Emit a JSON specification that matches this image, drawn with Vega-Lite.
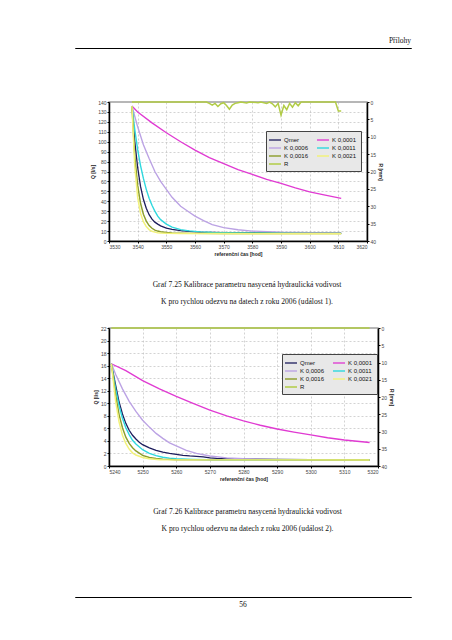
{
  "$schema": "https://vega.github.io/schema/vega-lite/v6.json",
  "autosize": {"type": "pad"},
  "padding": {"left": 74, "top": 36, "right": 4, "bottom": 4},
  "background": "white",
  "datasets": {
    "c1": [
      {"t":3538,"s":"Qmer","v":136},{"t":3539,"s":"Qmer","v":100},{"t":3540,"s":"Qmer","v":74},{"t":3541,"s":"Qmer","v":55},{"t":3542,"s":"Qmer","v":42},{"t":3543,"s":"Qmer","v":33},{"t":3544,"s":"Qmer","v":26.5},{"t":3545,"s":"Qmer","v":22},{"t":3546,"s":"Qmer","v":19},{"t":3547,"s":"Qmer","v":17},{"t":3548,"s":"Qmer","v":15.2},{"t":3550,"s":"Qmer","v":13},{"t":3552,"s":"Qmer","v":11.8},{"t":3555,"s":"Qmer","v":10.5},{"t":3558,"s":"Qmer","v":9.6},{"t":3562,"s":"Qmer","v":9},{"t":3566,"s":"Qmer","v":8.7},{"t":3570,"s":"Qmer","v":8.4},{"t":3580,"s":"Qmer","v":8.1},{"t":3590,"s":"Qmer","v":7.9},{"t":3600,"s":"Qmer","v":7.8},{"t":3611,"s":"Qmer","v":7.7},
      {"t":3538,"s":"K 0,0001","v":136},{"t":3540,"s":"K 0,0001","v":130},{"t":3545,"s":"K 0,0001","v":119},{"t":3550,"s":"K 0,0001","v":109},{"t":3555,"s":"K 0,0001","v":100},{"t":3560,"s":"K 0,0001","v":91.5},{"t":3565,"s":"K 0,0001","v":84},{"t":3570,"s":"K 0,0001","v":78},{"t":3575,"s":"K 0,0001","v":72},{"t":3580,"s":"K 0,0001","v":67},{"t":3585,"s":"K 0,0001","v":62},{"t":3590,"s":"K 0,0001","v":58},{"t":3595,"s":"K 0,0001","v":53.5},{"t":3600,"s":"K 0,0001","v":49.5},{"t":3605,"s":"K 0,0001","v":46.5},{"t":3611,"s":"K 0,0001","v":43},
      {"t":3538,"s":"K 0,0006","v":136},{"t":3540,"s":"K 0,0006","v":115},{"t":3542,"s":"K 0,0006","v":97},{"t":3544,"s":"K 0,0006","v":83},{"t":3546,"s":"K 0,0006","v":70},{"t":3548,"s":"K 0,0006","v":60},{"t":3550,"s":"K 0,0006","v":52},{"t":3552,"s":"K 0,0006","v":44},{"t":3555,"s":"K 0,0006","v":35},{"t":3558,"s":"K 0,0006","v":29},{"t":3560,"s":"K 0,0006","v":25},{"t":3563,"s":"K 0,0006","v":20.5},{"t":3566,"s":"K 0,0006","v":16.5},{"t":3570,"s":"K 0,0006","v":13.5},{"t":3575,"s":"K 0,0006","v":11.3},{"t":3580,"s":"K 0,0006","v":10},{"t":3590,"s":"K 0,0006","v":8.8},{"t":3600,"s":"K 0,0006","v":8.3},{"t":3611,"s":"K 0,0006","v":8},
      {"t":3538,"s":"K 0,0011","v":136},{"t":3539,"s":"K 0,0011","v":112},{"t":3540,"s":"K 0,0011","v":92},{"t":3541,"s":"K 0,0011","v":76},{"t":3542,"s":"K 0,0011","v":63},{"t":3543,"s":"K 0,0011","v":52},{"t":3544,"s":"K 0,0011","v":43},{"t":3545,"s":"K 0,0011","v":36},{"t":3546,"s":"K 0,0011","v":30},{"t":3547,"s":"K 0,0011","v":25},{"t":3548,"s":"K 0,0011","v":21.5},{"t":3550,"s":"K 0,0011","v":17},{"t":3552,"s":"K 0,0011","v":14},{"t":3555,"s":"K 0,0011","v":11.5},{"t":3558,"s":"K 0,0011","v":10.2},{"t":3562,"s":"K 0,0011","v":9.2},{"t":3566,"s":"K 0,0011","v":8.6},{"t":3570,"s":"K 0,0011","v":8.3},{"t":3580,"s":"K 0,0011","v":8},{"t":3590,"s":"K 0,0011","v":7.8},{"t":3600,"s":"K 0,0011","v":7.7},{"t":3611,"s":"K 0,0011","v":7.7},
      {"t":3538,"s":"K 0,0016","v":136},{"t":3539,"s":"K 0,0016","v":85},{"t":3540,"s":"K 0,0016","v":56},{"t":3541,"s":"K 0,0016","v":38},{"t":3542,"s":"K 0,0016","v":27},{"t":3543,"s":"K 0,0016","v":20},{"t":3544,"s":"K 0,0016","v":15.5},{"t":3545,"s":"K 0,0016","v":12.8},{"t":3546,"s":"K 0,0016","v":11},{"t":3547,"s":"K 0,0016","v":10},{"t":3548,"s":"K 0,0016","v":9.3},{"t":3550,"s":"K 0,0016","v":8.6},{"t":3552,"s":"K 0,0016","v":8.2},{"t":3555,"s":"K 0,0016","v":7.9},{"t":3560,"s":"K 0,0016","v":7.7},{"t":3570,"s":"K 0,0016","v":7.6},{"t":3611,"s":"K 0,0016","v":7.5},
      {"t":3538,"s":"K 0,0021","v":136},{"t":3539,"s":"K 0,0021","v":75},{"t":3540,"s":"K 0,0021","v":44},{"t":3541,"s":"K 0,0021","v":28},{"t":3542,"s":"K 0,0021","v":19.5},{"t":3543,"s":"K 0,0021","v":14.5},{"t":3544,"s":"K 0,0021","v":11.5},{"t":3545,"s":"K 0,0021","v":9.8},{"t":3546,"s":"K 0,0021","v":8.9},{"t":3547,"s":"K 0,0021","v":8.3},{"t":3548,"s":"K 0,0021","v":8},{"t":3550,"s":"K 0,0021","v":7.7},{"t":3555,"s":"K 0,0021","v":7.5},{"t":3611,"s":"K 0,0021","v":7.3},
      {"t":3538,"s":"R","v":0},{"t":3564,"s":"R","v":0},{"t":3565,"s":"R","v":0.4},{"t":3566,"s":"R","v":0.9},{"t":3567,"s":"R","v":0.4},{"t":3568,"s":"R","v":1.3},{"t":3569,"s":"R","v":0.5},{"t":3570,"s":"R","v":0.2},{"t":3571,"s":"R","v":1},{"t":3572,"s":"R","v":2.1},{"t":3573,"s":"R","v":0.9},{"t":3574,"s":"R","v":0.4},{"t":3575,"s":"R","v":0.2},{"t":3576,"s":"R","v":0},{"t":3578,"s":"R","v":0.3},{"t":3579,"s":"R","v":0},{"t":3582,"s":"R","v":0.2},{"t":3583,"s":"R","v":0},{"t":3585,"s":"R","v":0.4},{"t":3586,"s":"R","v":0},{"t":3587,"s":"R","v":0.5},{"t":3588,"s":"R","v":1.4},{"t":3589,"s":"R","v":0.4},{"t":3590,"s":"R","v":3.8},{"t":3591,"s":"R","v":1},{"t":3592,"s":"R","v":2.2},{"t":3593,"s":"R","v":0.4},{"t":3594,"s":"R","v":1.5},{"t":3595,"s":"R","v":0.2},{"t":3596,"s":"R","v":1.1},{"t":3597,"s":"R","v":0},{"t":3609,"s":"R","v":0},{"t":3610,"s":"R","v":2.6},{"t":3611,"s":"R","v":2.6}
    ],
    "c2": [
      {"t":5240.7,"s":"Qmer","v":16.3},{"t":5242,"s":"Qmer","v":12.8},{"t":5243,"s":"Qmer","v":10.2},{"t":5244,"s":"Qmer","v":8.3},{"t":5245,"s":"Qmer","v":6.8},{"t":5246,"s":"Qmer","v":5.7},{"t":5247,"s":"Qmer","v":4.9},{"t":5248,"s":"Qmer","v":4.3},{"t":5249,"s":"Qmer","v":3.8},{"t":5250,"s":"Qmer","v":3.4},{"t":5252,"s":"Qmer","v":2.9},{"t":5254,"s":"Qmer","v":2.5},{"t":5256,"s":"Qmer","v":2.2},{"t":5258,"s":"Qmer","v":2},{"t":5260,"s":"Qmer","v":1.85},{"t":5262,"s":"Qmer","v":1.7},{"t":5264,"s":"Qmer","v":1.6},{"t":5266,"s":"Qmer","v":1.55},{"t":5268,"s":"Qmer","v":1.45},{"t":5270,"s":"Qmer","v":1.3},{"t":5272,"s":"Qmer","v":1.2},{"t":5275,"s":"Qmer","v":1.15},{"t":5280,"s":"Qmer","v":1.1},{"t":5290,"s":"Qmer","v":1.05},{"t":5300,"s":"Qmer","v":1},{"t":5317.5,"s":"Qmer","v":0.95},
      {"t":5240.7,"s":"K 0,0001","v":16.3},{"t":5245,"s":"K 0,0001","v":15.2},{"t":5250,"s":"K 0,0001","v":13.6},{"t":5255,"s":"K 0,0001","v":12.3},{"t":5260,"s":"K 0,0001","v":11.1},{"t":5265,"s":"K 0,0001","v":10},{"t":5270,"s":"K 0,0001","v":8.9},{"t":5275,"s":"K 0,0001","v":8},{"t":5280,"s":"K 0,0001","v":7.2},{"t":5285,"s":"K 0,0001","v":6.5},{"t":5290,"s":"K 0,0001","v":5.9},{"t":5295,"s":"K 0,0001","v":5.4},{"t":5300,"s":"K 0,0001","v":4.95},{"t":5305,"s":"K 0,0001","v":4.5},{"t":5310,"s":"K 0,0001","v":4.15},{"t":5317.5,"s":"K 0,0001","v":3.75},
      {"t":5240.7,"s":"K 0,0006","v":16.3},{"t":5242,"s":"K 0,0006","v":14.6},{"t":5244,"s":"K 0,0006","v":12.3},{"t":5246,"s":"K 0,0006","v":10.3},{"t":5248,"s":"K 0,0006","v":8.7},{"t":5250,"s":"K 0,0006","v":7.3},{"t":5252,"s":"K 0,0006","v":6.2},{"t":5254,"s":"K 0,0006","v":5.2},{"t":5256,"s":"K 0,0006","v":4.4},{"t":5258,"s":"K 0,0006","v":3.7},{"t":5260,"s":"K 0,0006","v":3.2},{"t":5263,"s":"K 0,0006","v":2.5},{"t":5266,"s":"K 0,0006","v":2},{"t":5270,"s":"K 0,0006","v":1.6},{"t":5275,"s":"K 0,0006","v":1.3},{"t":5280,"s":"K 0,0006","v":1.15},{"t":5290,"s":"K 0,0006","v":1},{"t":5317.5,"s":"K 0,0006","v":0.95},
      {"t":5240.7,"s":"K 0,0011","v":16.3},{"t":5242,"s":"K 0,0011","v":12.2},{"t":5243,"s":"K 0,0011","v":9.6},{"t":5244,"s":"K 0,0011","v":7.6},{"t":5245,"s":"K 0,0011","v":6.1},{"t":5246,"s":"K 0,0011","v":5},{"t":5247,"s":"K 0,0011","v":4.1},{"t":5248,"s":"K 0,0011","v":3.5},{"t":5250,"s":"K 0,0011","v":2.6},{"t":5252,"s":"K 0,0011","v":2},{"t":5254,"s":"K 0,0011","v":1.65},{"t":5256,"s":"K 0,0011","v":1.4},{"t":5258,"s":"K 0,0011","v":1.25},{"t":5260,"s":"K 0,0011","v":1.15},{"t":5265,"s":"K 0,0011","v":1.05},{"t":5270,"s":"K 0,0011","v":1},{"t":5317.5,"s":"K 0,0011","v":0.95},
      {"t":5240.7,"s":"K 0,0016","v":16.3},{"t":5242,"s":"K 0,0016","v":11.2},{"t":5243,"s":"K 0,0016","v":8.2},{"t":5244,"s":"K 0,0016","v":6.1},{"t":5245,"s":"K 0,0016","v":4.6},{"t":5246,"s":"K 0,0016","v":3.6},{"t":5247,"s":"K 0,0016","v":2.9},{"t":5248,"s":"K 0,0016","v":2.4},{"t":5250,"s":"K 0,0016","v":1.7},{"t":5252,"s":"K 0,0016","v":1.35},{"t":5254,"s":"K 0,0016","v":1.2},{"t":5256,"s":"K 0,0016","v":1.1},{"t":5260,"s":"K 0,0016","v":1},{"t":5317.5,"s":"K 0,0016","v":0.95},
      {"t":5240.7,"s":"K 0,0021","v":16.3},{"t":5242,"s":"K 0,0021","v":10.2},{"t":5243,"s":"K 0,0021","v":7},{"t":5244,"s":"K 0,0021","v":4.9},{"t":5245,"s":"K 0,0021","v":3.6},{"t":5246,"s":"K 0,0021","v":2.7},{"t":5247,"s":"K 0,0021","v":2.1},{"t":5248,"s":"K 0,0021","v":1.75},{"t":5250,"s":"K 0,0021","v":1.35},{"t":5252,"s":"K 0,0021","v":1.15},{"t":5255,"s":"K 0,0021","v":1},{"t":5317.5,"s":"K 0,0021","v":0.95},
      {"t":5240.7,"s":"R","v":0},{"t":5260,"s":"R","v":0},{"t":5280,"s":"R","v":0},{"t":5300,"s":"R","v":0},{"t":5317.5,"s":"R","v":0}
    ],
    "empty": []
  },
  "vconcat": [
    {
      "width": 336, "height": 0.01,
      "data": {"name": "empty"},
      "mark": "point",
      "view": {"stroke": "#000", "strokeWidth": 1},
      "title": {"text": "Přílohy", "orient": "top", "anchor": "end", "offset": 4, "fontSize": 7.5}
    },
    {"width": 1, "height": 53, "data": {"name": "empty"}, "mark": "point"},
    {
      "hconcat": [
        {"width": 34, "height": 139, "data": {"name": "empty"}, "mark": "point"},
        {
          "width": 258, "height": 139,
          "data": {"name": "c1"},
          "view": {"stroke": "#a0a0a0", "strokeWidth": 1.5},
          "title": {"text": ["Graf 7.25 Kalibrace parametru nasycená hydraulická vodivost", "K pro rychlou odezvu na datech z roku 2006 (událost 1)."], "orient": "bottom", "anchor": "middle", "offset": 25, "dx": 9, "lineHeight": 17},
          "encoding": {
            "x": {"field": "t", "type": "quantitative", "scale": {"domain": [3530, 3620], "nice": false, "zero": false},
                  "axis": {"values": [3530, 3540, 3550, 3560, 3570, 3580, 3590, 3600, 3610, 3620], "title": "referenční čas [hod]", "format": "d"}},
            "color": {"field": "s", "type": "nominal",
                      "scale": {"domain": ["Qmer", "K 0,0001", "K 0,0006", "K 0,0011", "K 0,0016", "K 0,0021", "R"],
                                "range": ["#1c1c5c", "#e03ad2", "#bba2e4", "#2fd8de", "#8c9e2c", "#f2f27a", "#b2cc46"]},
                      "legend": {"orient": "none", "legendX": 157, "legendY": 29, "direction": "horizontal", "columns": 2}},
            "strokeWidth": {"field": "s", "type": "nominal", "legend": null,
                            "scale": {"domain": ["Qmer", "K 0,0001", "K 0,0006", "K 0,0011", "K 0,0016", "K 0,0021", "R"],
                                      "range": [1.3, 1.5, 1, 1.2, 1, 2, 2]}}
          },
          "layer": [
            {
              "transform": [{"filter": "datum.s !== 'R'"}],
              "mark": {"type": "line"},
              "encoding": {
                "y": {"field": "v", "type": "quantitative", "scale": {"domain": [0, 140], "nice": false},
                      "axis": {"values": [0, 10, 20, 30, 40, 50, 60, 70, 80, 90, 100, 110, 120, 130, 140], "title": "Q [l/s]", "grid": true}}
              }
            },
            {
              "transform": [{"filter": "datum.s === 'R'"}],
              "mark": {"type": "line"},
              "encoding": {
                "y": {"field": "v", "type": "quantitative", "scale": {"domain": [0, 40], "reverse": true, "nice": false},
                      "axis": {"orient": "right", "values": [0, 5, 10, 15, 20, 25, 30, 35, 40], "title": "R [mm]", "grid": false}}
              }
            }
          ],
          "resolve": {"scale": {"y": "independent"}}
        }
      ],
      "spacing": 0,
      "bounds": "flush",
      "resolve": {"scale": {"color": "independent", "strokeWidth": "independent"}, "legend": {"color": "independent"}}
    },
    {"width": 1, "height": 226, "data": {"name": "empty"}, "mark": "point"},
    {
      "hconcat": [
        {"width": 34, "height": 138, "data": {"name": "empty"}, "mark": "point"},
        {
          "width": 269, "height": 138,
          "data": {"name": "c2"},
          "view": {"stroke": "#a0a0a0", "strokeWidth": 1.5},
          "title": {"text": ["Graf 7.26 Kalibrace parametru nasycená hydraulická vodivost", "K pro rychlou odezvu na datech z roku 2006 (událost 2)."], "orient": "bottom", "anchor": "middle", "offset": 27, "dx": 4, "lineHeight": 17},
          "encoding": {
            "x": {"field": "t", "type": "quantitative", "scale": {"domain": [5240, 5320], "nice": false, "zero": false},
                  "axis": {"values": [5240, 5250, 5260, 5270, 5280, 5290, 5300, 5310, 5320], "title": "referenční čas [hod]", "format": "d"}},
            "color": {"field": "s", "type": "nominal",
                      "scale": {"domain": ["Qmer", "K 0,0001", "K 0,0006", "K 0,0011", "K 0,0016", "K 0,0021", "R"],
                                "range": ["#1c1c5c", "#e03ad2", "#bba2e4", "#2fd8de", "#8c9e2c", "#f2f27a", "#b2cc46"]},
                      "legend": {"orient": "none", "legendX": 173, "legendY": 26, "direction": "horizontal", "columns": 2}},
            "strokeWidth": {"field": "s", "type": "nominal", "legend": null,
                            "scale": {"domain": ["Qmer", "K 0,0001", "K 0,0006", "K 0,0011", "K 0,0016", "K 0,0021", "R"],
                                      "range": [1.3, 1.5, 1, 1.2, 1, 2, 2]}}
          },
          "layer": [
            {
              "transform": [{"filter": "datum.s !== 'R'"}],
              "mark": {"type": "line"},
              "encoding": {
                "y": {"field": "v", "type": "quantitative", "scale": {"domain": [0, 22], "nice": false},
                      "axis": {"values": [0, 2, 4, 6, 8, 10, 12, 14, 16, 18, 20, 22], "title": "Q [l/s]", "grid": true}}
              }
            },
            {
              "transform": [{"filter": "datum.s === 'R'"}],
              "mark": {"type": "line"},
              "encoding": {
                "y": {"field": "v", "type": "quantitative", "scale": {"domain": [0, 40], "reverse": true, "nice": false},
                      "axis": {"orient": "right", "values": [0, 5, 10, 15, 20, 25, 30, 35, 40], "title": "R [mm]", "grid": false}}
              }
            }
          ],
          "resolve": {"scale": {"y": "independent"}}
        }
      ],
      "spacing": 0,
      "bounds": "flush",
      "resolve": {"scale": {"color": "independent", "strokeWidth": "independent"}, "legend": {"color": "independent"}}
    },
    {"width": 1, "height": 269, "data": {"name": "empty"}, "mark": "point"},
    {
      "width": 336, "height": 0.01,
      "data": {"name": "empty"},
      "mark": "point",
      "view": {"stroke": "#000", "strokeWidth": 1},
      "title": {"text": "56", "orient": "bottom", "anchor": "middle", "offset": 4, "fontSize": 7.5}
    }
  ],
  "spacing": 0,
  "bounds": "flush",
  "resolve": {"scale": {"color": "independent", "strokeWidth": "independent"}, "legend": {"color": "independent"}},
  "config": {
    "view": {"stroke": null},
    "title": {"font": "Liberation Serif", "fontWeight": "normal", "fontSize": 7.6, "color": "#111"},
    "axis": {
      "labelFont": "Liberation Sans", "labelFontSize": 5, "labelColor": "#444", "labelPadding": 1,
      "titleFont": "Liberation Sans", "titleFontSize": 5, "titleFontWeight": "bold", "titleColor": "#222", "titlePadding": 2,
      "domainColor": "#000", "domainWidth": 1.5, "tickColor": "#000", "tickSize": 2, "tickWidth": 1,
      "gridColor": "#b5b5b5", "gridDash": [2, 2], "gridWidth": 0.6
    },
    "axisX": {"grid": true},
    "legend": {
      "title": null, "symbolType": "M-1.5,0H1.5", "symbolSize": 64, "symbolStrokeWidth": 1.6,
      "labelFont": "Liberation Sans", "labelFontSize": 6, "labelColor": "#111", "labelOffset": 4,
      "columnPadding": 5, "rowPadding": 0, "padding": 4,
      "fillColor": "#e8e8e8", "strokeColor": "#444", "strokeWidth": 1
    }
  }
}
